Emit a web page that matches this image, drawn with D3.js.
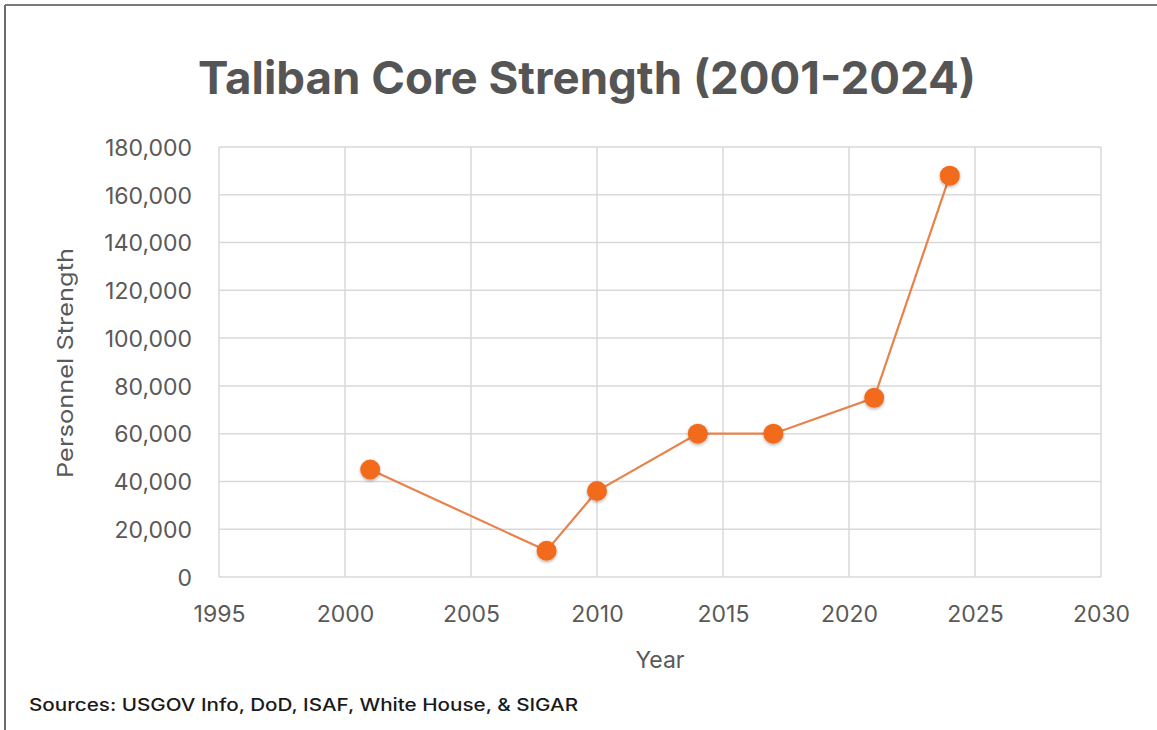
<!DOCTYPE html>
<html>
<head>
<meta charset="utf-8">
<script src="https://cdn.jsdelivr.net/npm/d3@7"></script>
<style>
  body { margin: 0; background: #fff; }
  text { font-family: Inter, "Open Sans", sans-serif; }
</style>
</head>
<body>
<div id="chart"></div>
<script>
// data
var years = [2001, 2008, 2010, 2014, 2017, 2021, 2024];
var strength = [45000, 11000, 36000, 60000, 60000, 75000, 168000];
var xTicks = [1995, 2000, 2005, 2010, 2015, 2020, 2025, 2030];
var yTicks = [0, 20000, 40000, 60000, 80000, 100000, 120000, 140000, 160000, 180000];

var W = 1157, H = 730;
var margin = {left: 219, right: 56, top: 147, bottom: 153};

var svg = d3.select("#chart").append("svg")
    .attr("width", W)
    .attr("height", H);

// frame edges (left and top only visible in the source)
svg.append("line").attr("x1", 5).attr("x2", 5).attr("y1", 5).attr("y2", H)
    .attr("stroke", "#6b6b6b").attr("stroke-width", 2);
svg.append("line").attr("x1", 5).attr("x2", W).attr("y1", 5).attr("y2", 5)
    .attr("stroke", "#7a7a7a").attr("stroke-width", 2);

var x = d3.scaleLinear().domain([1995, 2030]).range([margin.left, W - margin.right]);
var y = d3.scaleLinear().domain([0, 180000]).range([H - margin.bottom, margin.top]);

var defs = svg.append("defs");
var f = defs.append("filter").attr("id", "shadow")
    .attr("x", "-50%").attr("y", "-50%").attr("width", "200%").attr("height", "200%");
f.append("feDropShadow").attr("dx", 0).attr("dy", 1.5).attr("stdDeviation", 1.8)
    .attr("flood-color", "#000").attr("flood-opacity", 0.3);

// grid
var grid = svg.append("g");
grid.selectAll(".hg").data(yTicks).enter().append("line")
    .attr("x1", x(1995)).attr("x2", x(2030))
    .attr("y1", function(d) { return y(d); })
    .attr("y2", function(d) { return y(d); })
    .attr("stroke", "#d9d9d9").attr("stroke-width", 1.5);
grid.selectAll(".vg").data(xTicks).enter().append("line")
    .attr("y1", y(0)).attr("y2", y(180000))
    .attr("x1", function(d) { return x(d); })
    .attr("x2", function(d) { return x(d); })
    .attr("stroke", "#d9d9d9").attr("stroke-width", 1.5);

// axes (labels only)
var fmt = d3.format(",");
var yAxis = svg.append("g")
    .attr("transform", "translate(" + (margin.left - 27) + ",0)")
    .call(d3.axisLeft(y).tickValues(yTicks).tickFormat(fmt).tickSize(0).tickPadding(0));
yAxis.select(".domain").remove();
yAxis.selectAll("text")
    .attr("fill", "#595959").style("font-size", "23px").attr("dy", "0.36em");

var xAxis = svg.append("g")
    .attr("transform", "translate(0," + (y(0) + 29) + ")")
    .call(d3.axisBottom(x).tickValues(xTicks).tickFormat(d3.format("d")).tickSize(0).tickPadding(0));
xAxis.select(".domain").remove();
xAxis.selectAll("text")
    .attr("fill", "#595959").style("font-size", "23px").attr("dy", "0.71em");

// line + markers
var line = d3.line()
    .x(function(d, i) { return x(years[i]); })
    .y(function(d) { return y(d); });

svg.append("path")
    .datum(strength)
    .attr("d", line)
    .attr("fill", "none")
    .attr("stroke", "#e8824a")
    .attr("stroke-width", 2.2);

svg.selectAll(".pt").data(strength).enter().append("circle")
    .attr("cx", function(d, i) { return x(years[i]); })
    .attr("cy", function(d) { return y(d); })
    .attr("r", 10)
    .attr("fill", "#f26a1e")
    .attr("filter", "url(#shadow)");

// titles
svg.append("text")
    .attr("x", 587).attr("y", 94)
    .attr("text-anchor", "middle")
    .attr("fill", "#555555")
    .style("font-size", "45px").style("font-weight", "700")
    .attr("textLength", 778).attr("lengthAdjust", "spacingAndGlyphs")
    .text("Taliban Core Strength (2001-2024)");

svg.append("text")
    .attr("x", 660).attr("y", 668)
    .attr("text-anchor", "middle")
    .attr("fill", "#595959")
    .style("font-size", "23px")
    .text("Year");

svg.append("text")
    .attr("transform", "translate(73,363) rotate(-90)")
    .attr("text-anchor", "middle")
    .attr("fill", "#595959")
    .style("font-size", "22px")
    .attr("textLength", 230).attr("lengthAdjust", "spacingAndGlyphs")
    .text("Personnel Strength");

svg.append("text")
    .attr("x", 29).attr("y", 711)
    .attr("fill", "#1a1a1a")
    .style("font-size", "17px").style("font-weight", "500")
    .attr("textLength", 549).attr("lengthAdjust", "spacingAndGlyphs")
    .text("Sources: USGOV Info, DoD, ISAF, White House, & SIGAR");
</script>
</body>
</html>
